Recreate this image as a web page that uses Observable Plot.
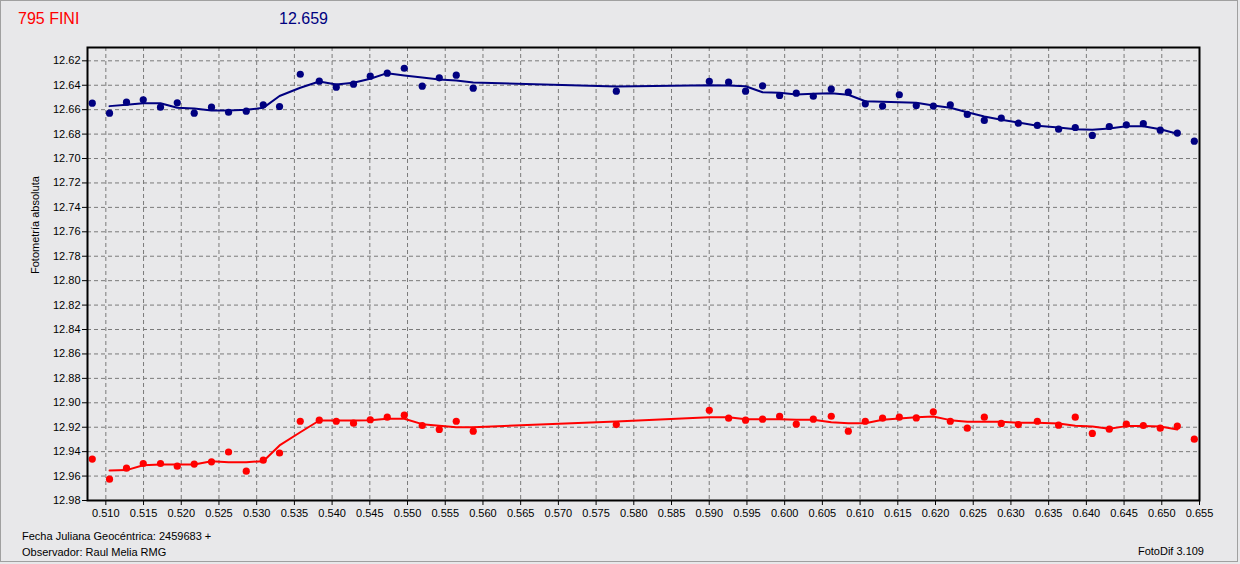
<!DOCTYPE html>
<html>
<head>
<meta charset="utf-8">
<script src="https://cdn.jsdelivr.net/npm/d3@7"></script>
<script src="https://cdn.jsdelivr.net/npm/@observablehq/plot@0.6"></script>
<style>
  html, body { margin: 0; padding: 0; background: #e8e8ea; }
  body { width: 1240px; height: 564px; overflow: hidden; position: relative; font-family: "Liberation Sans", Arial, sans-serif; }
  #border { position: absolute; left: 0; top: 0; width: 1236px; height: 560px; border: 1px solid #a0a0a0; pointer-events: none; }
  #header { position: relative; height: 36px; }
  #header span { position: absolute; top: 11px; font-size: 16px; line-height: 16px; white-space: nowrap; }
  #chart { height: 490px; }
  #chart svg { display: block; }
  #footer { position: relative; height: 38px; font-size: 11px; line-height: 16px; }
  #footer div { position: absolute; white-space: nowrap; color: #000; }
</style>
</head>
<body>
<div id="border"></div>
<div id="header">
  <span id="t1" style="left:18px;color:#ff0000;"></span>
  <span id="t2" style="left:279px;color:#000080;"></span>
</div>
<div id="chart"></div>
<div id="footer">
  <div id="f1" style="left:22px;top:2px;"></div>
  <div id="f2" style="left:22px;top:18px;"></div>
  <div id="f3" style="right:36px;top:17px;"></div>
</div>
<script>
const titleObject = "795 FINI";
const titleMean = "12.659";
const yLabel = "Fotometría absoluta";
const footerDate = "Fecha Juliana Geocéntrica: 2459683 +";
const footerObserver = "Observador: Raul Melia RMG";
const footerSoftware = "FotoDif 3.109";

const xTicks = [0.510, 0.515, 0.520, 0.525, 0.530, 0.535, 0.540, 0.545, 0.550, 0.555, 0.560, 0.565, 0.570, 0.575, 0.580, 0.585, 0.590, 0.595, 0.600, 0.605, 0.610, 0.615, 0.620, 0.625, 0.630, 0.635, 0.640, 0.645, 0.650, 0.655];
const yTicks = [12.62, 12.64, 12.66, 12.68, 12.70, 12.72, 12.74, 12.76, 12.78, 12.80, 12.82, 12.84, 12.86, 12.88, 12.90, 12.92, 12.94, 12.96, 12.98];

// Julian date fraction of each measurement
const jd = [0.50820, 0.51049, 0.51274, 0.51496, 0.51725, 0.51947, 0.52172, 0.52401, 0.52627, 0.52862, 0.53087, 0.53303, 0.53578, 0.53830, 0.54055, 0.54284, 0.54506, 0.54731, 0.54957, 0.55195, 0.55421, 0.55646, 0.55871,
  0.57768, 0.59001, 0.59257, 0.59482, 0.59707, 0.59933, 0.60154, 0.60380, 0.60618, 0.60844, 0.61069, 0.61298, 0.61520, 0.61745,
  0.61971, 0.62196, 0.62421, 0.62647, 0.62872, 0.63098, 0.63350, 0.63632, 0.63853, 0.64079, 0.64304, 0.64530, 0.64755, 0.64980, 0.65206, 0.65431];

// blue series (comparison)
const blueMag = [12.6547, 12.6629, 12.6539, 12.6519, 12.6580, 12.6544, 12.6629, 12.6580, 12.6621, 12.6612, 12.6560, 12.6574, 12.6310, 12.6367, 12.6416, 12.6391, 12.6326, 12.6301, 12.6261, 12.6408, 12.6339, 12.6318, 12.6424,
  12.6449, 12.6369, 12.6375, 12.6449, 12.6405, 12.6484, 12.6465, 12.6490, 12.6432, 12.6457, 12.6552, 12.6571, 12.6478, 12.6566,
  12.6571, 12.6560, 12.6639, 12.6688, 12.6670, 12.6711, 12.6729, 12.6760, 12.6746, 12.6811, 12.6738, 12.6724, 12.6715, 12.6768, 12.6792, 12.6858];

// red series (795 Fini)
const redMag = [12.9461, 12.9625, 12.9535, 12.9497, 12.9497, 12.9519, 12.9502, 12.9483, 12.9403, 12.9560, 12.9470, 12.9411, 12.9151, 12.9142, 12.9151, 12.9167, 12.9139, 12.9118, 12.9101, 12.9186, 12.9218, 12.9151, 12.9232,
  12.9178, 12.9061, 12.9126, 12.9142, 12.9134, 12.9112, 12.9175, 12.9134, 12.9110, 12.9232, 12.9151, 12.9126, 12.9118, 12.9124,
  12.9074, 12.9151, 12.9208, 12.9118, 12.9169, 12.9178, 12.9151, 12.9183, 12.9118, 12.9251, 12.9216, 12.9175, 12.9186, 12.9208, 12.9191, 12.9298];

// smoothed curves (values at jd[1] ... jd[51])
const blueSmooth = [12.6571, 12.6560, 12.6547, 12.6547, 12.6585, 12.6590, 12.6607, 12.6607, 12.6601, 12.6585, 12.6488, 12.6421, 12.6369, 12.6394, 12.6380, 12.6347, 12.6301, 12.6320, 12.6337, 12.6353, 12.6361, 12.6378,
  12.6410, 12.6400, 12.6402, 12.6408, 12.6457, 12.6462, 12.6476, 12.6470, 12.6465, 12.6478, 12.6531, 12.6535, 12.6539, 12.6544,
  12.6566, 12.6585, 12.6621, 12.6656, 12.6683, 12.6705, 12.6732, 12.6746, 12.6760, 12.6765, 12.6754, 12.6735, 12.6735, 12.6760, 12.6797];
const redSmooth = [12.9554, 12.9551, 12.9511, 12.9505, 12.9505, 12.9505, 12.9478, 12.9486, 12.9486, 12.9478, 12.9349, 12.9241, 12.9145, 12.9145, 12.9145, 12.9142, 12.9131, 12.9131, 12.9175, 12.9188, 12.9200, 12.9200,
  12.9153, 12.9118, 12.9118, 12.9134, 12.9134, 12.9134, 12.9139, 12.9139, 12.9159, 12.9167, 12.9167, 12.9139, 12.9128, 12.9118,
  12.9112, 12.9142, 12.9155, 12.9155, 12.9155, 12.9164, 12.9164, 12.9169, 12.9188, 12.9194, 12.9213, 12.9191, 12.9191, 12.9194, 12.9218];

const NAVY = "#000080", RED = "#ff0000";

const points = jd.map((x, i) => ({x, blue: blueMag[i], red: redMag[i]}));
const smoothJd = jd.slice(1, jd.length - 1);
const smooth = smoothJd.map((x, i) => ({x, blue: blueSmooth[i], red: redSmooth[i]}));

document.getElementById("t1").textContent = titleObject;
document.getElementById("t2").textContent = titleMean;
document.getElementById("f1").textContent = footerDate;
document.getElementById("f2").textContent = footerObserver;
document.getElementById("f3").textContent = footerSoftware;

const chart = Plot.plot({
  width: 1240,
  height: 490,
  marginLeft: 87,
  marginRight: 41,
  marginTop: 11,
  marginBottom: 26,
  style: {background: "transparent", fontFamily: "'Liberation Sans', Arial, sans-serif", fontSize: "11px", color: "#000"},
  x: {domain: [0.50757, 0.655]},
  y: {domain: [12.6091, 12.98], reverse: true},
  marks: [
    Plot.gridX(xTicks, {stroke: "#7a7a7a", strokeOpacity: 1, strokeDasharray: "4,3"}),
    Plot.gridY(yTicks, {stroke: "#7a7a7a", strokeOpacity: 1, strokeDasharray: "4,3"}),
    Plot.axisX({ticks: xTicks, tickFormat: d3.format(".3f"), tickSize: 5, tickPadding: 4, label: null, stroke: "#000"}),
    Plot.axisY({ticks: yTicks, tickFormat: d3.format(".2f"), tickSize: 5, tickPadding: 2, label: null, stroke: "#000"}),
    Plot.text([yLabel], {frameAnchor: "left", text: d => d, rotate: -90, dx: -52, fontSize: 11, fill: "#000", style: "letter-spacing:1.2px"}),
    Plot.line(smooth, {x: "x", y: "blue", stroke: NAVY, strokeWidth: 2}),
    Plot.line(smooth, {x: "x", y: "red", stroke: RED, strokeWidth: 2}),
    Plot.dot(points, {x: "x", y: "blue", r: 3.6, fill: NAVY, stroke: null}),
    Plot.dot(points, {x: "x", y: "red", r: 3.6, fill: RED, stroke: null}),
    Plot.frame({stroke: "#000", strokeWidth: 2})
  ]
});
document.getElementById("chart").appendChild(chart);
</script>
</body>
</html>
